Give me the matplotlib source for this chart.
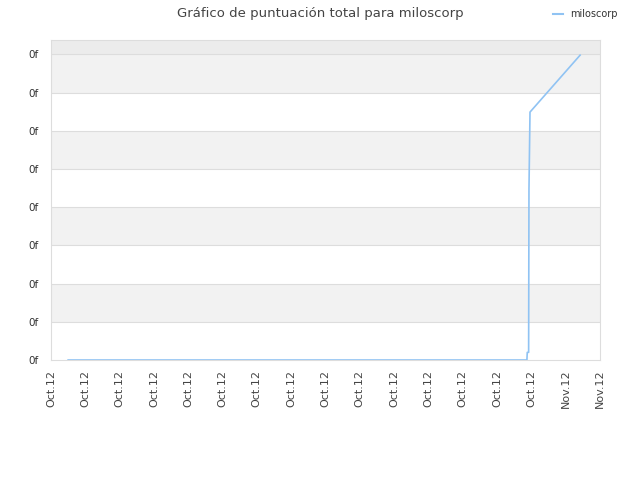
import matplotlib
matplotlib.use("Agg")
import matplotlib.pyplot as plt

# x positions in tick-interval units (0..16), scores
day_pos = [0.5, 13.87, 13.88, 13.92, 13.93, 13.96, 15.42]
score = [0, 0, 0.2, 0.2, 4.47, 6.49, 7.98]
xtick_labels = ["Oct.12"] * 15 + ["Nov.12", "Nov.12"]
ytick_labels = ["0f"] * 9

fig = plt.figure(figsize=(6.4, 4.8), dpi=100)
ax = fig.add_axes([51/640, 120/480, 549/640, 320/480])
ymax = 320/38.2
ax.set_xlim(0, 16)
ax.set_ylim(0, ymax)

for lo in [1, 3, 5, 7]:
    ax.axhspan(lo, lo + 1, color="#f2f2f2", zorder=0, lw=0)
ax.axhspan(8, ymax, color="#ececec", zorder=0, lw=0)
for v in range(1, 9):
    ax.axhline(v, color="#dddddd", lw=0.8, zorder=1)

ax.plot(day_pos, score, color="#90c3f3", lw=1.2, zorder=3, label="miloscorp")

ax.set_yticks(range(9))
ax.set_yticklabels(ytick_labels, fontsize=7.5, color="#333333")
ax.set_xticks(range(17))
ax.set_xticklabels(xtick_labels, rotation=90, fontsize=8, color="#444444")
ax.tick_params(length=0, pad=7)
ax.tick_params(axis="y", pad=9)
for s in ax.spines.values():
    s.set_color("#dddddd")
    s.set_linewidth(0.8)

fig.text(0.5, 0.972, "Gráfico de puntuación total para miloscorp", ha="center", va="center",
         fontsize=9.5, color="#444444")
fig.lines.append(plt.Line2D([553/640, 563/640], [0.97, 0.97], transform=fig.transFigure,
                            color="#90c3f3", lw=1.5))
fig.text(570/640, 0.97, "miloscorp", ha="left", va="center", fontsize=7, color="#333333")

fig.savefig("out.png", dpi=100)
